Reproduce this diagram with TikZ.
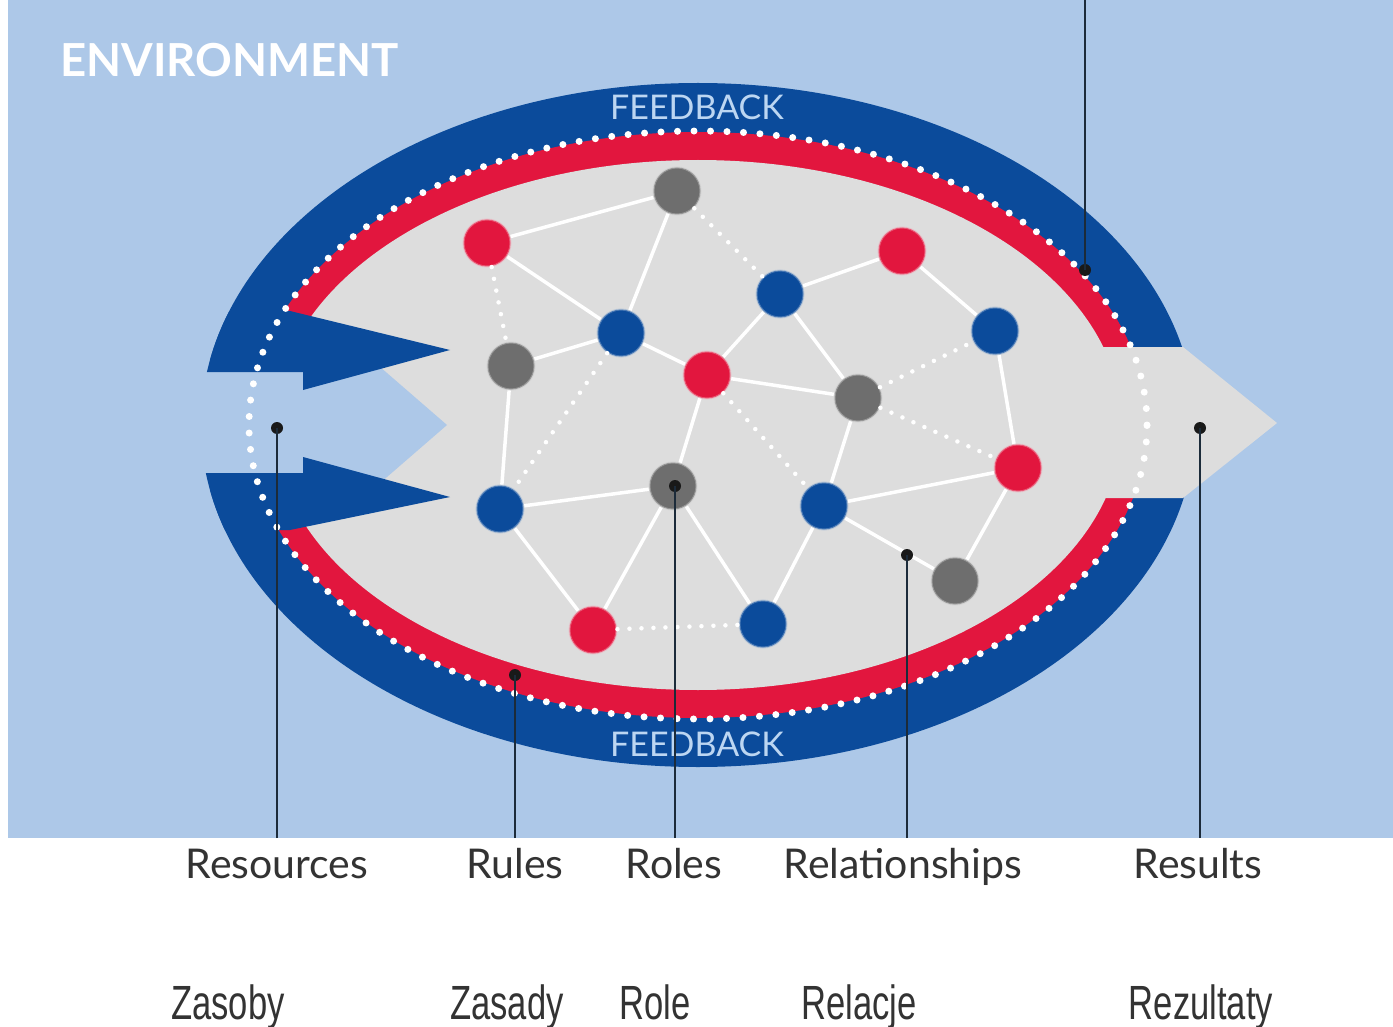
\documentclass[tikz,border=0pt]{standalone}
\usepackage{fontspec}
\setmainfont{Lato}
\newfontfamily\narrowfont[FakeStretch=0.72]{Liberation Sans}
\definecolor{envblue}{HTML}{ADC8E8}
\definecolor{ringblue}{HTML}{0B4B9B}
\definecolor{ringred}{HTML}{E2163E}
\definecolor{innergrey}{HTML}{DDDDDD}
\definecolor{nodegrey}{HTML}{6E6E6E}
\definecolor{fbtext}{HTML}{BCD6F2}
\definecolor{pinline}{HTML}{1C2B3A}
\definecolor{labelgrey}{HTML}{333333}
\begin{document}
\begin{tikzpicture}[x=1pt,y=-1pt,
  netnode/.style={circle,minimum size=47pt,inner sep=0pt,draw opacity=0.45,line width=2pt},
  rednode/.style={netnode,fill=ringred,draw=white!60!ringred},
  bluenode/.style={netnode,fill=ringblue,draw=white!55!ringblue},
  greynode/.style={netnode,fill=nodegrey,draw=white!60!nodegrey},
  solidedge/.style={draw=white,line width=3.5pt},
  dotedge/.style={draw=white,line width=4.5pt,line cap=round,dash pattern=on 0pt off 12pt},
  pindot/.style={circle,fill=black!90,minimum size=12pt,inner sep=0pt},
  pinwire/.style={draw=pinline,line width=2.6pt},
  englabel/.style={font=\fontsize{41}{44}\selectfont,text=labelgrey,inner sep=0pt,anchor=base},
  pllabel/.style={font=\narrowfont\fontsize{48}{52}\selectfont,text=labelgrey,inner sep=0pt,anchor=base},
  fblabel/.style={font=\fontsize{34}{36}\selectfont,text=fbtext,inner sep=0pt}
]
\useasboundingbox (0,0) rectangle (1393,1027);
\fill[white] (0,0) rectangle (1393,1027);
\fill[envblue] (8,0) rectangle (1393,838);

% rings
\fill[ringblue] (698,425) ellipse [x radius=497pt, y radius=342pt];
\fill[ringred] (698,425) ellipse [x radius=449pt, y radius=293pt];
\fill[innergrey] (698,425) ellipse [x radius=424pt, y radius=265pt];

% left gap (environment notch)
\fill[envblue] (150,360) -- (372,360) -- (447,425) -- (372,490) -- (150,490) -- cycle;
% input arrows
\begin{scope}
  \clip (698,425) ellipse [x radius=497pt, y radius=342pt];
  \fill[ringblue] (150,311) -- (290,311) -- (450,350) -- (303,390) -- (303,372) -- (150,372) -- cycle;
  \fill[ringblue] (150,473) -- (303,473) -- (303,457) -- (450,497) -- (290,530) -- (150,530) -- cycle;
\end{scope}
% output arrow
\fill[innergrey] (1040,347) -- (1183,347) -- (1277,423) -- (1183,498) -- (1040,498) -- cycle;

% dotted boundary
\draw[white,line width=7pt,line cap=round,dash pattern=on 0pt off 16.5pt]
  (698,425) ellipse [x radius=449pt, y radius=294pt];

% texts
\node[font=\bfseries\fontsize{45.5}{48}\selectfont,text=white,anchor=west,inner sep=0pt] (env) at (60,60) {ENVIRONMENT};
\node[fblabel] (fbtop) at (697,107) {FEEDBACK};
\node[fblabel] (fbbot) at (697,744) {FEEDBACK};

% network nodes
\node[greynode] (g1) at (677,191) {};
\node[greynode] (g2) at (511,366) {};
\node[greynode] (g3) at (858,398) {};
\node[greynode] (g4) at (673,486) {};
\node[greynode] (g5) at (955,581) {};
\node[rednode] (r1) at (487,243) {};
\node[rednode] (r2) at (902,251) {};
\node[rednode] (r3) at (707,375) {};
\node[rednode] (r4) at (1018,468) {};
\node[rednode] (r5) at (593,630) {};
\node[bluenode] (b1) at (780,294) {};
\node[bluenode] (b2) at (621,333) {};
\node[bluenode] (b3) at (995,331) {};
\node[bluenode] (b4) at (500,509) {};
\node[bluenode] (b5) at (824,506) {};
\node[bluenode] (b6) at (763,624) {};

% solid links
\foreach \a/\b in {r1/g1,r1/b2,g1/b2,b2/g2,b2/r3,r3/b1,b1/r2,r2/b3,b1/g3,r3/g3,g3/b5,b3/r4,b5/r4,g2/b4,b4/g4,b4/r5,r5/g4,g4/b6,b5/b6,r3/g4,r4/g5,b5/g5}
  \draw[solidedge] (\a) -- (\b);
% dotted links
\foreach \a/\b in {r1/g2,g1/b1,b2/b4,r3/b5,g3/b3,g3/r4,r5/b6}
  \draw[dotedge] (\a) -- (\b);

% labels
\node[englabel] (lres) at (277,878) {Resources};
\node[englabel] (lrul) at (515,878) {Rules};
\node[englabel] (lrol) at (674,878) {Roles};
\node[englabel] (lrel) at (903,878) {Relationships};
\node[englabel] (lrsl) at (1198,878) {Results};

\node[pllabel] (pres) at (228,1019) {Zasoby};
\node[pllabel] (prul) at (507,1019) {Zasady};
\node[pllabel] (prol) at (655,1019) {Role};
\node[pllabel] (prel) at (859,1019) {Relacje};
\node[pllabel] (prsl) at (1201,1019) {Rezultaty};

% pointer dots and wires
\node[pindot] (dres) at (277,428) {};
\node[pindot] (drul) at (515,675) {};
\node[pindot] (drol) at (675,486) {};
\node[pindot] (drel) at (907,555) {};
\node[pindot] (drsl) at (1200,428) {};
\node[pindot] (dtop) at (1085,270) {};
\coordinate (wres) at (277,838);
\coordinate (wrul) at (515,838);
\coordinate (wrol) at (675,838);
\coordinate (wrel) at (907,838);
\coordinate (wrsl) at (1200,838);
\coordinate (wtop) at (1085,0);
\draw[pinwire] (wres) -- (dres.center);
\draw[pinwire] (wrul) -- (drul.center);
\draw[pinwire] (wrol) -- (drol.center);
\draw[pinwire] (wrel) -- (drel.center);
\draw[pinwire] (wrsl) -- (drsl.center);
\draw[pinwire] (wtop) -- (dtop.center);
\end{tikzpicture}
\end{document}
